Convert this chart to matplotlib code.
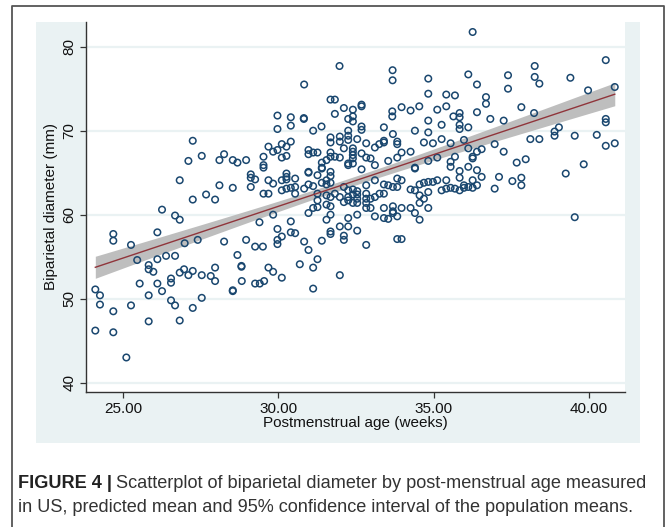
import numpy as np
import matplotlib
matplotlib.use("Agg")
import matplotlib.pyplot as plt
from matplotlib.patches import Rectangle
from matplotlib.lines import Line2D

# Postmenstrual age (weeks) and biparietal diameter (mm)
age_weeks = [
    26.25, 26.67, 26.82, 24.68, 24.68, 26.1, 25.25, 28.25, 28.96, 29.39, 29.25, 29.5, 27.4, 26.98,
    26.1, 26.38, 26.67, 25.82, 25.82, 25.97, 25.53, 26.1, 26.54, 26.54, 26.25, 25.82, 26.54, 26.67,
    26.82, 25.82, 26.82, 26.96, 27.1, 27.24, 27.53, 27.82, 27.96, 27.96, 27.53, 27.24, 28.53, 28.53,
    28.81, 28.81, 28.68, 28.82, 29.25, 29.4, 29.54, 24.1, 24.25, 24.25, 24.68, 25.25, 24.1, 24.68,
    25.1, 25.45,
    27.24, 27.1, 27.53, 28.25, 28.1, 28.53, 28.68, 28.96, 29.52, 29.52, 29.52, 29.11, 29.11, 29.25,
    26.82, 28.1, 28.53, 29.11, 29.52, 27.67, 27.24, 27.96,
    31.97, 30.83, 33.68, 33.68, 34.83,
    36.26, 36.12, 36.4, 37.4, 37.4, 38.26, 38.26, 38.41, 39.41, 40.55, 39.98, 40.84,
    36.69, 36.69, 36.4, 36.83, 37.26, 37.83, 38.24, 40.55, 40.55, 38.9, 39.04, 38.9, 38.12, 38.41,
    39.55, 40.26, 40.55, 40.84, 36.97, 37.26, 36.4, 36.55, 36.26, 36.26, 36.4, 36.55, 36.26, 36.4,
    36.26, 37.68, 37.97, 37.11, 36.97, 37.54, 37.83, 37.83, 39.26, 39.84, 39.55,
    31.68, 31.82, 34.83, 35.41, 35.69, 32.68, 32.68, 32.4, 32.11, 31.82, 33.67, 33.67, 33.97, 34.26,
    34.54, 35.12, 35.41, 35.84, 35.84, 35.64, 29.97, 30.4, 30.82, 30.82, 32.25, 32.4, 32.4, 34.83,
    35.26, 35.84, 35.84, 36.12, 29.97, 30.4, 31.12, 31.39, 32.25, 32.68, 32.68, 33.4, 33.69, 34.4,
    34.83, 35.26, 31.68, 31.68, 31.98, 31.98, 32.25, 32.25, 32.54, 32.83, 32.4, 32.4, 32.4, 32.4,
    32.11, 33.11, 33.25, 33.4, 33.4, 33.83, 33.83, 34.69, 34.98, 35.55, 35.98, 36.12, 29.68, 29.83,
    29.97, 30.11, 30.26, 30.11, 30.26, 30.4, 30.97, 30.97, 31.12, 31.26, 31.4, 31.55, 31.68, 31.68,
    31.82, 31.98, 32.25, 32.25, 32.4, 32.68, 32.83, 32.97, 32.68, 33.11, 33.54, 33.83, 33.97, 34.26,
    34.83, 35.12, 35.55, 35.55, 35.69, 35.84, 36.12, 35.84,
    30.26, 30.26, 30.26, 30.11, 30.54, 29.68, 29.83, 30.11, 30.26, 30.4, 30.54, 30.83, 30.97, 31.12,
    30.97, 30.97, 31.26, 31.4, 31.4, 31.55, 31.68, 31.68, 31.4, 31.55, 31.68, 31.26, 30.54, 29.68,
    29.83,
    32.11, 32.25, 32.4, 32.54, 32.83, 33.11, 33.4, 33.54, 33.69, 33.83, 33.83, 33.97, 34.4, 34.4,
    34.26, 34.4, 34.55, 34.69, 34.83, 34.55, 34.69, 34.83, 34.98, 35.12, 35.26, 35.41, 35.55, 35.69,
    35.84, 35.41, 36.12, 35.98, 35.98,
    31.82, 31.98, 32.25, 32.4, 32.54, 32.54, 32.11, 32.25, 32.4, 32.54, 32.83, 32.83, 32.83, 32.97,
    33.11, 33.26, 33.4, 31.55, 31.68, 31.55, 31.68, 31.26, 31.12, 31.26, 30.97, 31.55, 31.68, 31.98,
    32.25, 32.25, 32.54, 32.83, 32.97, 33.11, 33.4, 33.4, 33.54, 33.69, 33.69, 33.69, 33.83, 33.97,
    34.26, 34.4, 34.55, 34.83, 34.55,
    30.83, 30.97, 30.69, 31.12, 31.26, 30.4, 30.4, 30.54, 29.97, 30.11, 29.97, 29.97, 29.68, 29.83,
    30.11, 31.68, 31.68, 31.4, 32.11, 32.11, 32.54, 32.83, 31.98, 31.12, 33.83, 33.97,
]
bpd_mm = [
    60.6, 59.9, 59.4, 57.7, 56.9, 57.9, 56.4, 56.8, 57.0, 59.1, 56.2, 56.2, 57.0, 56.6,
    54.7, 55.1, 55.1, 54.0, 53.5, 53.2, 51.8, 51.8, 52.4, 51.9, 50.9, 50.4, 49.8, 49.2,
    47.4, 47.3, 53.1, 53.5, 52.8, 53.3, 52.8, 52.7, 53.7, 52.1, 50.1, 48.9, 50.9, 51.0,
    53.8, 53.9, 55.2, 52.1, 51.8, 51.8, 52.1, 51.1, 50.4, 49.3, 48.5, 49.2, 46.2, 46.0,
    43.0, 54.6,
    68.8, 66.4, 67.0, 67.2, 66.5, 66.5, 66.2, 66.5, 66.9, 65.9, 65.6, 64.8, 64.4, 64.2,
    64.1, 63.5, 63.2, 63.3, 62.5, 62.4, 61.8, 61.8,
    77.7, 75.5, 77.2, 76.0, 76.2,
    81.75, 76.7, 75.5, 76.6, 75.0, 77.7, 76.4, 75.6, 76.3, 78.4, 74.8, 75.2,
    74.0, 73.2, 72.2, 71.4, 71.2, 72.8, 72.1, 71.4, 71.0, 69.9, 70.4, 69.4, 69.0, 69.0,
    69.4, 69.5, 68.2, 68.5, 68.4, 67.5, 67.5, 67.8, 66.7, 66.9, 65.3, 64.5, 64.1, 63.5,
    63.2, 66.2, 66.6, 64.5, 63.1, 64.0, 64.4, 63.5, 64.9, 66.0, 59.7,
    73.7, 73.7, 74.4, 74.3, 74.2, 72.9, 73.1, 72.5, 72.7, 72.0, 72.3, 71.7, 72.8, 72.4,
    72.9, 72.5, 72.9, 72.1, 71.6, 71.7, 71.8, 71.6, 71.4, 71.5, 71.4, 71.7, 71.1, 71.2,
    70.7, 70.7, 70.2, 70.4, 70.2, 70.6, 70.0, 70.5, 70.0, 70.5, 70.1, 70.4, 69.6, 70.0,
    69.8, 69.0, 69.2, 68.6, 69.3, 68.7, 69.4, 68.9, 69.0, 68.5, 67.9, 67.5, 67.1, 66.7,
    67.9, 68.0, 68.4, 68.6, 68.8, 68.7, 68.4, 68.6, 68.5, 68.5, 68.9, 67.9, 68.1, 67.5,
    67.7, 68.4, 68.1, 66.8, 67.0, 68.7, 67.7, 67.2, 67.4, 67.4, 66.2, 66.5, 67.4, 66.9,
    66.9, 66.8, 66.1, 65.9, 66.1, 67.3, 66.8, 66.7, 65.4, 65.9, 66.4, 66.8, 67.4, 67.5,
    66.4, 66.8, 66.3, 65.7, 66.9, 65.2, 65.7, 64.4,
    64.9, 64.5, 64.2, 64.1, 64.3, 64.1, 63.7, 62.9, 63.1, 63.2, 63.3, 63.1, 63.6, 63.4,
    65.0, 65.1, 64.7, 65.5, 65.6, 64.1, 65.1, 64.6, 63.8, 63.6, 63.8, 62.5, 62.5, 62.5,
    60.0,
    63.3, 62.9, 63.0, 62.8, 63.5, 64.1, 63.6, 63.5, 63.3, 63.3, 64.3, 64.1, 65.5, 65.6,
    63.0, 62.9, 63.6, 63.8, 63.9, 62.3, 61.9, 62.7, 63.9, 64.1, 62.9, 63.1, 63.2, 63.1,
    62.9, 64.1, 63.3, 63.5, 63.2,
    62.5, 62.1, 62.1, 62.4, 62.4, 61.9, 61.5, 61.7, 61.4, 61.4, 62.5, 61.9, 61.4, 61.9,
    62.1, 62.5, 62.5, 62.3, 62.1, 61.2, 61.0, 61.7, 60.8, 60.9, 60.2, 59.4, 60.0, 58.6,
    58.6, 59.6, 60.0, 60.8, 60.8, 59.8, 60.8, 59.6, 59.5, 61.0, 60.4, 60.2, 59.8, 60.8,
    60.8, 60.2, 59.4, 60.8, 61.4,
    56.8, 55.8, 54.1, 53.7, 54.7, 59.2, 57.9, 57.8, 58.3, 57.4, 57.0, 56.5, 53.7, 53.2,
    52.5, 58.0, 57.7, 56.9, 57.5, 57.0, 58.1, 56.4, 52.8, 51.2, 57.1, 57.1,
]

x_ticks = [25, 30, 35, 40]
y_ticks = [40, 50, 60, 70, 80]

caption_bold = "FIGURE 4 |"
caption_line1 = "Scatterplot of biparietal diameter by post-menstrual age measured"
caption_line2 = "in US, predicted mean and 95% confidence interval of the population means."

navy = "#1a476f"
maroon = "#90353b"
band_gray = "#bebebe"
bluish = "#eaf2f3"

# linear fit and 95% CI of the mean
x = np.array(age_weeks)
y = np.array(bpd_mm)
n = len(x)
slope, intercept = np.polyfit(x, y, 1)
resid = y - (intercept + slope * x)
s = np.sqrt(np.sum(resid ** 2) / (n - 2))
sxx = np.sum((x - x.mean()) ** 2)
xs = np.linspace(x.min(), x.max(), 100)
fit = intercept + slope * xs
hw = 1.966 * s * np.sqrt(1.0 / n + (xs - x.mean()) ** 2 / sxx)

W, H = 670, 527
fig = plt.figure(figsize=(W / 100, H / 100), dpi=100)
fig.patch.set_facecolor("white")

# outer frame (open at the bottom) and Stata-style graph region
fig.add_artist(Line2D([12 / W, 12 / W, 664 / W, 664 / W], [0, 1 - 6 / H, 1 - 6 / H, 0],
                      transform=fig.transFigure, color="#555555", lw=1.3))
fig.add_artist(Rectangle((36 / W, 1 - 443 / H), (640 - 36) / W, (443 - 22) / H,
                         transform=fig.transFigure, facecolor=bluish, edgecolor="none", zorder=0))

ax = fig.add_axes([86 / W, 1 - 392 / H, (625 - 86) / W, (392 - 22) / H])
ax.set_facecolor("white")
ax.set_xlim(23.80, 41.17)
ax.set_ylim(38.89, 82.94)

for yt in y_ticks:
    ax.axhline(yt, color=bluish, lw=1.6, zorder=0)

ax.fill_between(xs, fit - hw, fit + hw, color=band_gray, lw=0, zorder=2)
ax.scatter(x, y, s=22, facecolors="none", edgecolors=navy, linewidths=1.1, zorder=3)
ax.plot(xs, fit, color=maroon, lw=1.0, zorder=4)

ax.set_xticks(x_ticks)
ax.set_xticklabels([f"{t:.2f}" for t in x_ticks])
ax.set_yticks(y_ticks)
ax.set_yticklabels([str(t) for t in y_ticks], rotation=90, va="center")
for sp in ["top", "right"]:
    ax.spines[sp].set_visible(False)
for sp in ["left", "bottom"]:
    ax.spines[sp].set_color("#333333")
    ax.spines[sp].set_linewidth(1.0)
ax.tick_params(direction="out", length=4, width=0.9, color="#333333",
               labelsize=11, labelcolor="#111111", pad=3)
for lab in ax.get_xticklabels() + ax.get_yticklabels():
    lab.set_family("Liberation Sans")
ax.set_xlabel("Postmenstrual age (weeks)", fontsize=11, family="Liberation Sans",
              color="#111111", labelpad=0)
ax.set_ylabel("Biparietal diameter (mm)", fontsize=11, family="Liberation Sans",
              color="#111111", labelpad=3)

# caption
cap_font = "Liberation Sans"
cap_size = 13.1
t_bold = fig.text(18 / W, 1 - 484 / H, caption_bold, fontsize=cap_size, weight="bold",
                  family=cap_font, color="#222222", va="center")
fig.canvas.draw()
bb = t_bold.get_window_extent()
fig.text((bb.x1 + 4) / W, 1 - 484 / H, caption_line1, fontsize=cap_size,
         family=cap_font, color="#333333", va="center")
fig.text(18 / W, 1 - 507 / H, caption_line2, fontsize=cap_size,
         family=cap_font, color="#333333", va="center")

fig.savefig("out.png", dpi=100)
